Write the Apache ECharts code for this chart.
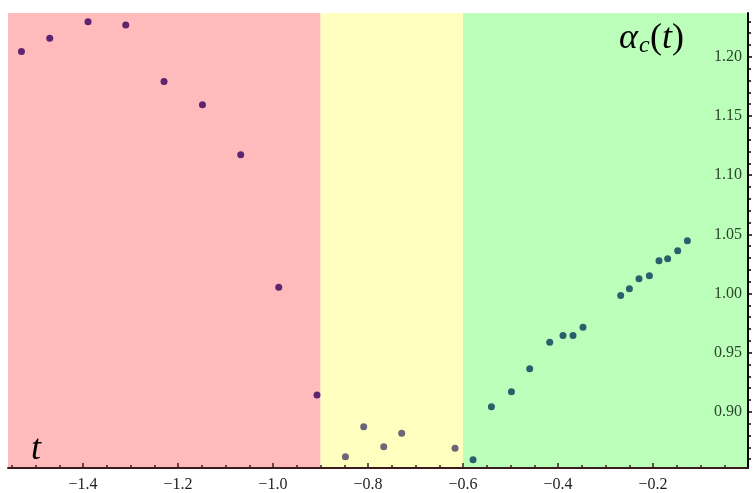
<!DOCTYPE html>
<html><head><meta charset="utf-8">
<script src="https://cdn.jsdelivr.net/npm/echarts@6/dist/echarts.min.js"></script>
<style>html,body{margin:0;padding:0;background:#fff}#c{width:754px;height:493px}</style>
</head><body><div id="c"></div>
<script>
// ---- data ----
const redT = [-1.5297, -1.4701, -1.3895, -1.3101, -1.2295, -1.1486, -1.0680, -0.9880, -0.9074];
const redV = [1.2045, 1.2158, 1.2298, 1.2270, 1.1792, 1.1595, 1.1173, 1.0052, 0.9141];
const yellowT = [-0.8476, -0.8091, -0.7669, -0.7291, -0.6168];
const yellowV = [0.8620, 0.8873, 0.8705, 0.8818, 0.8691];
const greenT = [-0.5789, -0.5402, -0.4981, -0.4596, -0.4175, -0.3895, -0.3684, -0.3474, -0.2680, -0.2497, -0.2295, -0.2076, -0.1874, -0.1691, -0.1480, -0.1276];
const greenV = [0.8595, 0.9042, 0.9169, 0.9363, 0.9588, 0.9644, 0.9644, 0.9714, 0.9984, 1.0041, 1.0125, 1.0150, 1.0277, 1.0294, 1.0361, 1.0445];
const regionEdges = [-1.558, -0.9, -0.6, 0];
const xTickLabels = [-1.4, -1.2, -1.0, -0.8, -0.6, -0.4, -0.2];
const yTickLabels = [0.90, 0.95, 1.00, 1.05, 1.10, 1.15, 1.20];

// ---- axis ranges ----
const xMin = -1.558, xMax = 0;
const yMin = 0.8525, yMax = 1.2371;

const xMinor = [];
for (let i = -31; i <= -1; i++) xMinor.push(Math.round(i * 5) / 100);
const yMinor = [];
for (let i = 86; i <= 123; i++) yMinor.push(i / 100);

const pairs = (a, b) => a.map((t, i) => [t, b[i]]);
const minus = s => s.replace('-', '\u2212');
const serif = '"Liberation Serif", "DejaVu Serif", serif';

const chart = echarts.init(document.getElementById('c'), null, {renderer: 'canvas'});
chart.setOption({
  animation: false,
  backgroundColor: '#ffffff',
  grid: {left: 8, right: 6, top: 13, bottom: 24, containLabel: false},
  xAxis: [
    {
      type: 'value', min: xMin, max: xMax, position: 'bottom', z: 10,
      axisLine: {onZero: false, lineStyle: {color: '#3a1c1c', width: 2}},
      axisTick: {inside: true, length: 5, customValues: xTickLabels, lineStyle: {color: '#3a1c1c', width: 1.5}},
      axisLabel: {customValues: xTickLabels, formatter: v => minus(v.toFixed(1)), fontFamily: serif, fontSize: 16, color: '#1e1e1e', margin: 9},
      splitLine: {show: false}
    },
    {
      type: 'value', min: xMin, max: xMax, position: 'bottom', offset: 0, z: 10,
      axisLine: {show: false, onZero: false},
      axisTick: {inside: true, length: 3, customValues: xMinor, lineStyle: {color: '#3a1c1c', width: 1.5}},
      axisLabel: {show: false},
      splitLine: {show: false}
    }
  ],
  yAxis: [
    {
      type: 'value', min: yMin, max: yMax, position: 'right', z: 10,
      axisLine: {show: true, onZero: false, lineStyle: {color: '#000', width: 2}},
      axisTick: {inside: false, length: 4, customValues: yTickLabels, lineStyle: {color: '#000', width: 1.5}},
      axisLabel: {inside: true, customValues: yTickLabels, formatter: v => v.toFixed(2), fontFamily: serif, fontSize: 16, color: '#2a452a', margin: 6},
      splitLine: {show: false}
    },
    {
      type: 'value', min: yMin, max: yMax, position: 'right', offset: 0, z: 10,
      axisLine: {show: false, onZero: false},
      axisTick: {inside: false, length: 3, customValues: yMinor, lineStyle: {color: '#000', width: 1.5}},
      axisLabel: {show: false},
      splitLine: {show: false}
    }
  ],
  series: [
    {
      type: 'scatter', data: [], z: 1, silent: true,
      markArea: {
        silent: true,
        label: {show: false},
        data: [
          [{xAxis: regionEdges[0], itemStyle: {color: '#FFBBBB', opacity: 1}}, {xAxis: regionEdges[1]}],
          [{xAxis: regionEdges[1], itemStyle: {color: '#FFFFBF', opacity: 1}}, {xAxis: regionEdges[2]}],
          [{xAxis: regionEdges[2], itemStyle: {color: '#BBFFBB', opacity: 1}}, {xAxis: regionEdges[3]}]
        ]
      }
    },
    {type: 'scatter', z: 3, symbolSize: 7, itemStyle: {color: '#5e2470', opacity: 1}, data: pairs(redT, redV)},
    {type: 'scatter', z: 3, symbolSize: 7, itemStyle: {color: '#6a6676', opacity: 1}, data: pairs(yellowT, yellowV)},
    {type: 'scatter', z: 3, symbolSize: 7, itemStyle: {color: '#2a5f6c', opacity: 1}, data: pairs(greenT, greenV)}
  ],
  graphic: [
    {type: 'text', x: 31, y: 450, z: 20, style: {text: 't', font: 'italic 36px ' + serif, fill: '#000', verticalAlign: 'middle'}},
    {type: 'text', x: 619, y: 39, z: 20, style: {text: '\u03B1', font: 'italic 36px ' + serif, fill: '#000', verticalAlign: 'middle'}},
    {type: 'text', x: 639, y: 46, z: 20, style: {text: 'c', font: 'italic 24px ' + serif, fill: '#000', verticalAlign: 'middle'}},
    {type: 'text', x: 650, y: 39, z: 20, style: {text: '{p|(}{t|t}{p|)}', font: '36px ' + serif, fill: '#000', verticalAlign: 'middle',
      rich: {p: {font: '36px ' + serif, fill: '#000'}, t: {font: 'italic 36px ' + serif, fill: '#000'}}}}
  ]
});
</script>
</body></html>
